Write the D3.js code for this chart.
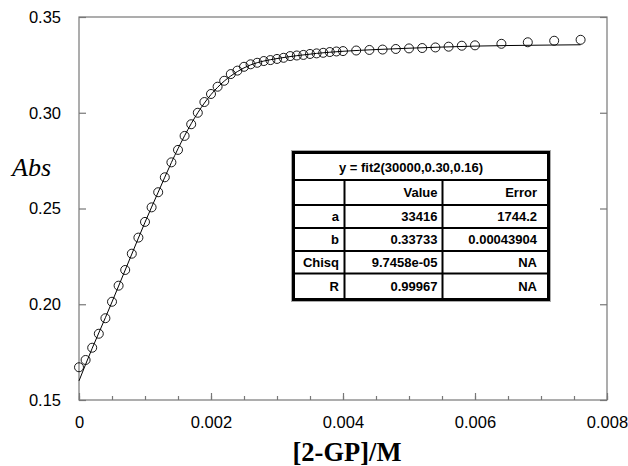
<!DOCTYPE html>
<html lang="en">
<head>
<meta charset="UTF-8">
<title>Abs vs [2-GP]</title>
<style>
    body { margin: 0; background: #fff; }
    svg { display: block; }
</style>
</head>
<body>
<script src="https://cdn.jsdelivr.net/npm/d3@7/dist/d3.min.js"></script>
<script>
// measured points
const conc = [0, 0.0001, 0.0002, 0.0003, 0.0004, 0.0005, 0.0006, 0.0007, 0.0008, 0.0009,
    0.0010, 0.0011, 0.0012, 0.0013, 0.0014, 0.0015, 0.0016, 0.0017, 0.0018, 0.0019,
    0.0020, 0.0021, 0.0022, 0.0023, 0.0024, 0.0025, 0.0026, 0.0027, 0.0028, 0.0029,
    0.0030, 0.0031, 0.0032, 0.0033, 0.0034, 0.0035, 0.0036, 0.0037, 0.0038, 0.0039,
    0.0040, 0.0042, 0.0044, 0.0046, 0.0048, 0.0050, 0.0052, 0.0054, 0.0056, 0.0058,
    0.0060, 0.0064, 0.0068, 0.0072, 0.0076];
const absorb = [0.1671, 0.1709, 0.1773, 0.1846, 0.1927, 0.2013, 0.2097, 0.2179, 0.2264, 0.2348,
    0.2430, 0.2506, 0.2585, 0.2663, 0.2741, 0.2806, 0.2879, 0.2940, 0.3000, 0.3056,
    0.3098, 0.3136, 0.3167, 0.3202, 0.3220, 0.3240, 0.3253, 0.3261, 0.3270, 0.3275,
    0.3281, 0.3287, 0.3296, 0.3299, 0.3302, 0.3307, 0.3310, 0.3313, 0.3317, 0.3320,
    0.3322, 0.3325, 0.3328, 0.3330, 0.3333, 0.3336, 0.3338, 0.3341, 0.3345, 0.3350,
    0.3352, 0.3360, 0.3368, 0.3376, 0.3381];

// fitted curve
const fitX = [0, 0.0002, 0.0004, 0.0006, 0.0008, 0.0010, 0.0012, 0.0014, 0.0016, 0.0018,
    0.0020, 0.0022, 0.0024, 0.0026, 0.0028, 0.0030, 0.0033, 0.0036, 0.0040, 0.0045,
    0.0050, 0.0055, 0.0060, 0.0065, 0.0070, 0.0076];
const fitY = [0.1600, 0.1770, 0.1930, 0.2095, 0.2262, 0.2428, 0.2585, 0.2740, 0.2880, 0.3000,
    0.3095, 0.3165, 0.3215, 0.3250, 0.3270, 0.3283, 0.3298, 0.3310, 0.3321, 0.3330,
    0.3337, 0.3343, 0.3348, 0.3351, 0.3353, 0.3355];

const xTicks = [0, 0.002, 0.004, 0.006, 0.008];
const xMinor = d3.range(0, 0.00801, 0.0005);
const yTicks = [0.15, 0.20, 0.25, 0.30, 0.35];

// fit table text
const fitTitle = "y = fit2(30000,0.30,0.16)";
const colHeads = ["", "Value", "Error"];
const rowNames = ["a", "b", "Chisq", "R"];
const valueCol = ["33416", "0.33733", "9.7458e-05", "0.99967"];
const errorCol = ["1744.2", "0.00043904", "NA", "NA"];

const W = 628, H = 466;
const m = {left: 79, top: 17, right: 607, bottom: 400};

const svg = d3.select("body").append("svg")
    .attr("width", W).attr("height", H);

const x = d3.scaleLinear().domain([0, 0.008]).range([m.left, m.right]);
const y = d3.scaleLinear().domain([0.15, 0.35]).range([m.bottom, m.top]);

const axisCol = "#777";

// frame
svg.append("rect")
    .attr("x", m.left).attr("y", m.top)
    .attr("width", m.right - m.left).attr("height", m.bottom - m.top)
    .attr("fill", "none").attr("stroke", axisCol).attr("stroke-width", 1.2);

// bottom minor ticks
const gMinor = svg.append("g")
    .attr("transform", `translate(0,${m.bottom})`)
    .call(d3.axisBottom(x).tickValues(xMinor).tickSize(-4).tickFormat(""));

// bottom major ticks with labels
const gx = svg.append("g")
    .attr("transform", `translate(0,${m.bottom})`)
    .call(d3.axisBottom(x).tickValues(xTicks).tickSize(-7).tickPadding(16)
        .tickFormat(d => d === 0 ? "0" : d3.format(".3f")(d)));

// left axis
const gy = svg.append("g")
    .attr("transform", `translate(${m.left},0)`)
    .call(d3.axisLeft(y).tickValues(yTicks).tickSize(-7).tickPadding(18)
        .tickFormat(d3.format(".2f")));

// right ticks
const gr = svg.append("g")
    .attr("transform", `translate(${m.right},0)`)
    .call(d3.axisRight(y).tickValues(yTicks).tickSize(-7).tickFormat(""));

[gMinor, gx, gy, gr].forEach(g => {
    g.select(".domain").remove();
    g.selectAll(".tick line").attr("stroke", axisCol).attr("stroke-width", 1.2);
    g.selectAll("text")
        .attr("font-family", "Liberation Sans, Arial, sans-serif")
        .attr("font-size", 16.5).attr("fill", "#000");
});

// fit line
const line = d3.line()
    .x((d, i) => x(fitX[i]))
    .y(d => y(d))
    .curve(d3.curveMonotoneX);

svg.append("path")
    .datum(fitY)
    .attr("d", line)
    .attr("fill", "none")
    .attr("stroke", "#000")
    .attr("stroke-width", 1);

// data points
svg.append("g").selectAll("circle")
    .data(absorb)
    .join("circle")
    .attr("cx", (d, i) => x(conc[i]))
    .attr("cy", d => y(d))
    .attr("r", 4.5)
    .attr("fill", "none")
    .attr("stroke", "#000")
    .attr("stroke-width", 0.9);

// axis titles
svg.append("text")
    .attr("x", 12).attr("y", 176)
    .attr("font-family", "Liberation Serif, Times New Roman, serif")
    .attr("font-style", "italic")
    .attr("font-size", 26)
    .text("Abs");

svg.append("text")
    .attr("x", 347).attr("y", 461)
    .attr("text-anchor", "middle")
    .attr("font-family", "Liberation Serif, Times New Roman, serif")
    .attr("font-weight", "bold")
    .attr("font-size", 26.5)
    .text("[2-GP]/M");

// fit table
const tb = {left: 293.5, top: 152.5, right: 548.5, bottom: 299.5};
const colX = [tb.left, 344.5, 442.5, tb.right];
const rowY = [tb.top, 180, 205, 228, 251, 273.5, tb.bottom];
const tbl = svg.append("g");

tbl.append("rect")
    .attr("x", tb.left - 2).attr("y", tb.top - 2)
    .attr("width", tb.right - tb.left + 4).attr("height", tb.bottom - tb.top + 4)
    .attr("fill", "#fff").attr("stroke", "#aaa").attr("stroke-width", 1);

tbl.append("rect")
    .attr("x", tb.left).attr("y", tb.top)
    .attr("width", tb.right - tb.left).attr("height", tb.bottom - tb.top)
    .attr("fill", "#fff").attr("stroke", "#000").attr("stroke-width", 3);

// horizontal rules
tbl.selectAll("line.h")
    .data(rowY.slice(1, -1))
    .join("line")
    .attr("x1", tb.left).attr("x2", tb.right)
    .attr("y1", d => d).attr("y2", d => d)
    .attr("stroke", "#000").attr("stroke-width", 2);

// vertical rules below title
tbl.selectAll("line.v")
    .data(colX.slice(1, -1))
    .join("line")
    .attr("x1", d => d).attr("x2", d => d)
    .attr("y1", rowY[1]).attr("y2", tb.bottom)
    .attr("stroke", "#000").attr("stroke-width", 2);

const cellFont = g => g
    .attr("font-family", "Liberation Sans, Arial, sans-serif")
    .attr("font-weight", "bold")
    .attr("font-size", 13)
    .attr("dominant-baseline", "central");

tbl.append("text")
    .attr("x", 411).attr("y", (rowY[0] + rowY[1]) / 2 + 1)
    .attr("text-anchor", "middle")
    .call(cellFont)
    .text(fitTitle);

const textRight = [339, 437.5, 537];
const rows = [colHeads].concat(rowNames.map((r, i) => [r, valueCol[i], errorCol[i]]));
rows.forEach((r, ri) => {
    r.forEach((t, ci) => {
        tbl.append("text")
            .attr("x", textRight[ci])
            .attr("y", (rowY[ri + 1] + rowY[ri + 2]) / 2)
            .attr("text-anchor", "end")
            .call(cellFont)
            .text(t);
    });
});
</script>
</body>
</html>
